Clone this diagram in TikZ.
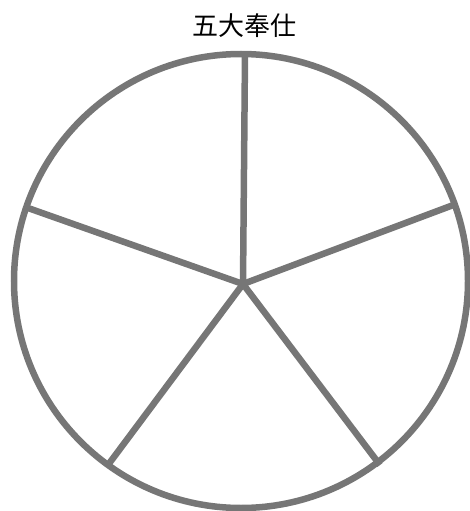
\documentclass[tikz,border=0pt]{standalone}
\usepackage{fontspec}
\newfontfamily\cjk{Noto Sans CJK SC}
\definecolor{spokegray}{HTML}{767676}
\begin{document}
\begin{tikzpicture}[x=1pt,y=-1pt,
  rim/.style={draw=spokegray,line width=6.5pt},
  spoke/.style={draw=spokegray,line width=6.5pt},
  title/.style={font=\cjk\fontsize{26}{29}\selectfont,inner sep=0pt}]
\useasboundingbox (0,0) rectangle (470,511);
\coordinate (c) at (241,281);
\coordinate (hub) at (243,284);
\coordinate (pt) at (245,54);
\coordinate (pr) at (456,204);
\coordinate (pl) at (28,208);
\coordinate (pbl) at (108,465);
\coordinate (pbr) at (380,465);
\draw[rim] (c) circle[radius=227];
\draw[spoke] (hub) -- (pt);
\draw[spoke] (hub) -- (pr);
\draw[spoke] (hub) -- (pl);
\draw[spoke] (hub) -- (pbl);
\draw[spoke] (hub) -- (pbr);
\node[title] (t) at (244,26) {五大奉仕};
\end{tikzpicture}
\end{document}
